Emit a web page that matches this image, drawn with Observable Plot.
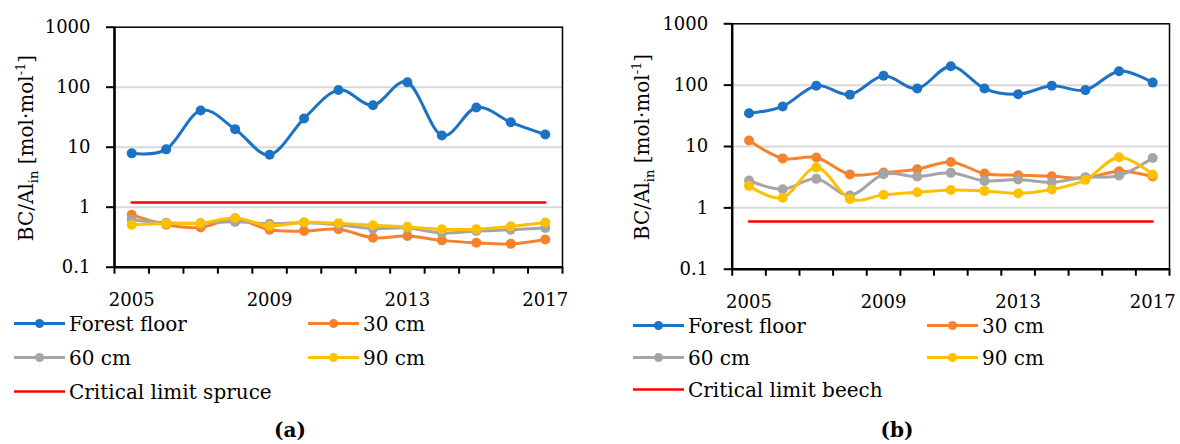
<!DOCTYPE html>
<html><head><meta charset="utf-8">
<script src="https://cdn.jsdelivr.net/npm/d3@7"></script>
<script src="https://cdn.jsdelivr.net/npm/@observablehq/plot@0.6"></script>
<style>
body{margin:0;background:#fff;}
#wrap{position:relative;width:1180px;height:444px;overflow:hidden;font-family:"DejaVu Serif",serif;}
.panel{position:absolute;top:0;}
#overlay{position:absolute;left:0;top:0;}
</style></head><body><div id="wrap"></div>
<script>
// ---------- data ----------
const years = [2005,2006,2007,2008,2009,2010,2011,2012,2013,2014,2015,2016,2017];
const seriesNames = ["Forest floor","30 cm","60 cm","90 cm"];
const seriesColors = ["#1c72c4","#f7822e","#a5a5a5","#ffc000"];
const limitColor = "#ff0000";
const yTicks = [0.1,1,10,100,1000];
const xTickLabels = [2005,2009,2013,2017];

// (a) spruce
const spruceForestFloor = [7.9,9.2,41,20,7.5,30,90,50,121,15.7,46,26,16.3];
const spruce30 = [0.75,0.51,0.46,0.64,0.42,0.40,0.43,0.31,0.33,0.28,0.255,0.245,0.29];
const spruce60 = [0.62,0.55,0.54,0.57,0.53,0.55,0.51,0.44,0.45,0.37,0.40,0.42,0.45];
const spruce90 = [0.51,0.535,0.54,0.66,0.49,0.56,0.54,0.50,0.47,0.43,0.43,0.48,0.555];
const spruceLimit = 1.2;
const spruceLimitName = "Critical limit spruce";

// (b) beech
const beechForestFloor = [34.8,45,98,70,142,88,203,88,71,98,83,169,110];
const beech30 = [12.5,6.4,6.6,3.5,3.76,4.26,5.6,3.62,3.4,3.27,3.08,3.95,3.24];
const beech60 = [2.79,2.01,2.97,1.59,3.53,3.24,3.72,2.75,2.89,2.61,3.15,3.36,6.5];
const beech90 = [2.28,1.46,4.54,1.40,1.63,1.80,1.96,1.89,1.73,1.99,2.86,6.7,3.49];
const beechLimit = 0.6;
const beechLimitName = "Critical limit beech";

// ---------- drawing ----------
const FONT = "DejaVu Serif";
const wrap = document.getElementById("wrap");

function panel(cfg) {
  const {series, limit, left, width, height, mL, mR, mT, mB, labelX, labelY} = cfg;
  const x0 = years[0] - 0.5, x1 = years[years.length-1] + 0.5;
  const bounds = d3.range(x0, x1 + 0.01, 1);
  const limitRows = [{year: years[0], value: limit}, {year: years[years.length-1], value: limit}];
  const marks = [
    Plot.ruleY(yTicks.slice(1, -1), {stroke: "#d9d9d9", strokeWidth: 2})
  ];
  series.forEach((vals, k) => {
    const rows = years.map((yr, i) => ({year: yr, value: vals[i]}));
    marks.push(Plot.line(rows, {x: "year", y: "value", stroke: seriesColors[k], strokeWidth: 3, curve: "cardinal"}));
    marks.push(Plot.dot(rows, {x: "year", y: "value", fill: seriesColors[k], r: 5}));
  });
  marks.push(Plot.line(limitRows, {x: "year", y: "value", stroke: limitColor, strokeWidth: 2.5}));
  marks.push(Plot.frame({stroke: "#000", strokeWidth: 1.5}));
  marks.push(Plot.ruleX([x0], {stroke: "#000", strokeWidth: 2.5}));
  marks.push(Plot.ruleY([0.1], {stroke: "#000", strokeWidth: 2.5}));
  marks.push(Plot.axisY({ticks: yTicks, tickSize: 8, tickPadding: 16, strokeWidth: 2, tickFormat: d => String(d), fontSize: 18, label: null}));
  marks.push(Plot.axisX({ticks: bounds, tickSize: 7, strokeWidth: 2, tickFormat: () => "", label: null}));
  marks.push(Plot.axisX({ticks: xTickLabels, tickSize: 0, tickPadding: 26, tickFormat: d => String(d), fontSize: 18, label: null}));
  const svg = Plot.plot({
    width, height,
    marginLeft: mL, marginRight: mR, marginTop: mT, marginBottom: mB,
    x: {domain: [x0, x1], axis: null, label: null},
    y: {type: "log", domain: [0.1, 1000], axis: null, label: null},
    style: {fontFamily: FONT, fontSize: "18px", color: "#000", background: "transparent", overflow: "visible"},
    marks
  });
  svg.classList.add("panel");
  svg.style.left = left + "px";
  // rotated y label with sub/superscript
  const t = d3.select(svg).append("text")
    .attr("transform", `translate(${labelX},${labelY}) rotate(-90)`)
    .attr("text-anchor", "middle")
    .attr("font-family", FONT).attr("font-size", 20).attr("fill", "#000");
  t.append("tspan").text("BC/Al");
  t.append("tspan").attr("font-size", 13).attr("dy", 5).text("in");
  t.append("tspan").attr("font-size", 20).attr("dy", -5).text("\u00a0[mol\u00b7mol");
  t.append("tspan").attr("font-size", 13).attr("dy", -8).text("-1");
  t.append("tspan").attr("font-size", 20).attr("dy", 8).text("]");
  wrap.appendChild(svg);
}

panel({series: [spruceForestFloor, spruce30, spruce60, spruce90], limit: spruceLimit,
  left: 0, width: 590, height: 320, mL: 114, mR: 28, mT: 26.7, mB: 53.3, labelX: 33, labelY: 148});
panel({series: [beechForestFloor, beech30, beech60, beech90], limit: beechLimit,
  left: 590, width: 590, height: 320, mL: 141.7, mR: 11, mT: 23.3, mB: 51.3, labelX: 59, labelY: 147});

// legends and captions
const ov = d3.select(wrap).append("svg").attr("id", "overlay").attr("width", 1180).attr("height", 444)
  .attr("font-family", FONT);
function legend(ox, oy, rowGap, limitName) {
  const items = seriesNames.map((n, k) => ({name: n, color: seriesColors[k], dot: true}))
    .concat([{name: limitName, color: limitColor, dot: false}]);
  items.forEach((it, i) => {
    const x = ox + (i % 2) * 294, y = oy + Math.floor(i / 2) * rowGap;
    ov.append("line").attr("x1", x).attr("x2", x + 51).attr("y1", y).attr("y2", y)
      .attr("stroke", it.color).attr("stroke-width", it.dot ? 3 : 2.5);
    if (it.dot) ov.append("circle").attr("cx", x + 25.5).attr("cy", y).attr("r", 4.5).attr("fill", it.color);
    ov.append("text").attr("x", x + 55).attr("y", y + 7).attr("font-size", 20).attr("fill", "#000").text(it.name);
  });
}
legend(14, 323.5, 34, spruceLimitName);
legend(633, 325.5, 32, beechLimitName);
ov.append("text").attr("x", 290).attr("y", 437).attr("text-anchor", "middle").attr("font-size", 20)
  .attr("font-weight", "bold").text("(a)");
ov.append("text").attr("x", 897).attr("y", 437).attr("text-anchor", "middle").attr("font-size", 20)
  .attr("font-weight", "bold").text("(b)");
</script></body></html>
